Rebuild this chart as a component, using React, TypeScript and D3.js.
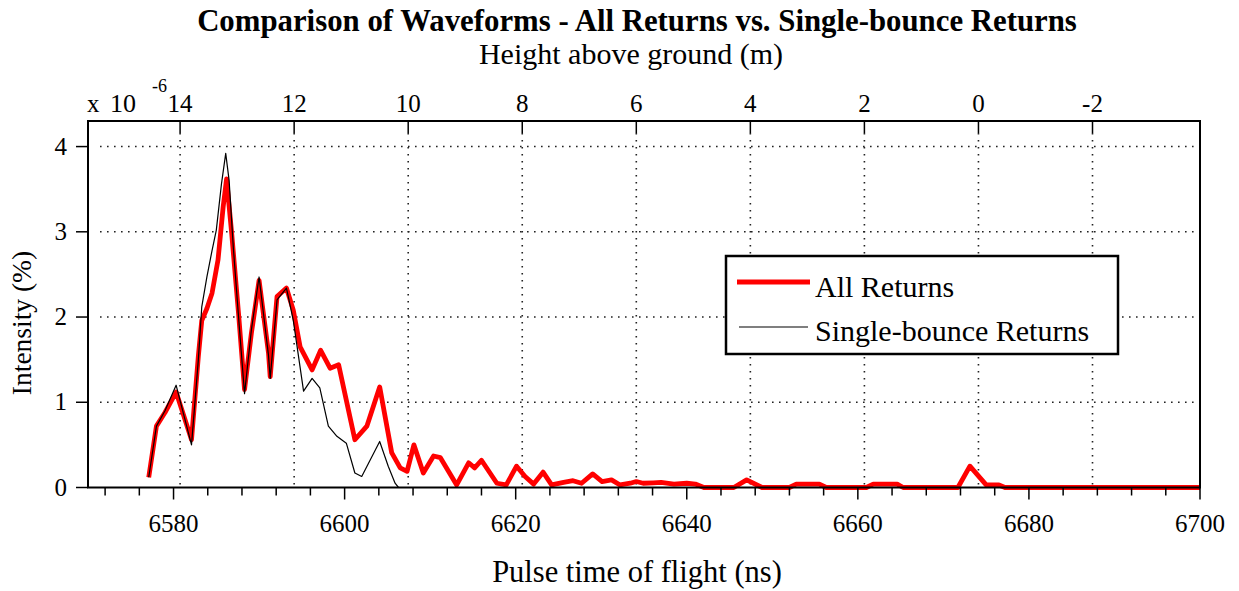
import React from "react";
import * as d3 from "d3";

// ---- Data ----
const allTime = [
  6577.1, 6578.0, 6579.0, 6580.3, 6582.1, 6582.9, 6583.3, 6583.9, 6584.5, 6585.2,
  6585.8, 6586.2, 6586.8, 6587.6, 6588.3, 6589.1, 6590.0, 6591.1, 6591.3, 6592.1,
  6593.2, 6594.0, 6594.8, 6596.2, 6597.2, 6598.3, 6599.3, 6601.2, 6602.6, 6604.1,
  6605.5, 6606.5, 6607.3, 6608.1, 6609.2, 6610.4, 6611.2, 6613.1, 6614.5, 6615.2,
  6616.0, 6617.8, 6618.9, 6620.1, 6621.1, 6622.1, 6623.2, 6624.2, 6625.6, 6626.7,
  6627.7, 6629.0, 6630.1, 6631.2, 6632.2, 6633.4, 6634.1, 6634.9, 6636.1, 6637.0,
  6638.5, 6640.0, 6641.0, 6642.0, 6645.5, 6647.0, 6648.8, 6652.0, 6652.8, 6655.5,
  6656.3, 6661.0, 6661.8, 6664.6, 6665.3, 6671.7, 6673.1, 6675.0, 6676.5, 6677.2,
  6700.0,
];
const allIntensity = [
  0.12, 0.72, 0.88, 1.12, 0.56, 1.54, 1.96, 2.1, 2.28, 2.67,
  3.29, 3.62, 2.98, 2.04, 1.15, 1.81, 2.43, 1.58, 1.3, 2.24,
  2.34, 2.08, 1.65, 1.38, 1.61, 1.4, 1.44, 0.56, 0.72, 1.18,
  0.41, 0.23, 0.19, 0.5, 0.17, 0.37, 0.35, 0.03, 0.29, 0.23,
  0.32, 0.05, 0.03, 0.25, 0.13, 0.04, 0.18, 0.03, 0.06, 0.08,
  0.05, 0.16, 0.07, 0.09, 0.03, 0.05, 0.07, 0.05, 0.055, 0.06,
  0.04, 0.05, 0.04, 0.0, 0.0, 0.09, 0.0, 0.0, 0.04, 0.04,
  0.0, 0.0, 0.04, 0.04, 0.0, 0.0, 0.25, 0.03, 0.03, 0.0,
  0.0,
];
const singleTime = [
  6577.1, 6578.0, 6579.0, 6580.3, 6582.1, 6582.9, 6583.3, 6583.9, 6584.5, 6585.0,
  6585.6, 6586.1, 6586.5, 6587.0, 6587.6, 6588.3, 6589.1, 6590.0, 6591.1, 6591.3,
  6592.1, 6593.2, 6594.0, 6595.2, 6596.2, 6597.1, 6598.1, 6599.1, 6600.2, 6601.2,
  6602.0, 6604.1, 6605.1, 6605.9, 6606.3,
];
const singleIntensity = [
  0.12, 0.72, 0.9, 1.2, 0.5, 1.5, 2.12, 2.47, 2.78, 3.02,
  3.56, 3.92, 3.6, 2.8, 2.0, 1.1, 1.85, 2.47, 1.55, 1.28,
  2.2, 2.34, 1.96, 1.13, 1.28, 1.17, 0.72, 0.6, 0.52, 0.17,
  0.13, 0.54, 0.25, 0.05, 0.0,
];
const timeTicks = [6580, 6600, 6620, 6640, 6660, 6680, 6700];
const heightTicks = [14, 12, 10, 8, 6, 4, 2, 0, -2];
const intensityTicks = [0, 1, 2, 3, 4];
const seriesNames = ["All Returns", "Single-bounce Returns"];

// ---- Layout ----
const W = 1239;
const H = 591;
const L = 88;
const R = 1200;
const T = 121;
const B = 487.5;
const GROUND_NS = 6674.1; // time of flight at 0 m
const M_PER_NS = 0.15;
const FONT = "'Liberation Serif', 'Times New Roman', serif";

export default function App() {
  const x = d3.scaleLinear().domain([6570, 6700]).range([L, R]);
  const hDomain = [(GROUND_NS - 6570) * M_PER_NS, (GROUND_NS - 6700) * M_PER_NS];
  const hx = d3.scaleLinear().domain(hDomain).range([L, R]);
  const y = d3.scaleLinear().domain([0, 4.3]).range([B, T]);

  const lineGen = d3
    .line<[number, number]>()
    .x((d) => x(d[0]))
    .y((d) => y(d[1]));
  const allPath = lineGen(allTime.map((t, i) => [t, allIntensity[i]] as [number, number]));
  const singlePath = lineGen(singleTime.map((t, i) => [t, singleIntensity[i]] as [number, number]));

  const minorTicks = d3.range(6572, 6701, 4).filter((t) => (t - 6580) % 20 !== 0);

  const dot = { stroke: "#222", strokeWidth: 1.6, strokeDasharray: "1.6 5.4" };

  return (
    <svg
      width={W}
      height={H}
      style={{ position: "absolute", left: 0, top: 0, background: "#fff" }}
      fontFamily={FONT}
    >
      <rect x={0} y={0} width={W} height={H} fill="#fff" />
      {/* grid */}
      {heightTicks.map((h) => (
        <line key={"gv" + h} x1={hx(h)} x2={hx(h)} y1={T + 12} y2={B} {...dot} />
      ))}
      {intensityTicks
        .filter((v) => v > 0)
        .map((v) => (
          <line key={"gh" + v} x1={L + 12} x2={R - 4} y1={y(v)} y2={y(v)} {...dot} />
        ))}

      {/* series */}
      <path d={allPath || ""} fill="none" stroke="#ff0000" strokeWidth={4.8} strokeLinejoin="round" />
      <path d={singlePath || ""} fill="none" stroke="#000" strokeWidth={1.2} strokeLinejoin="round" />

      {/* frame */}
      <rect x={L} y={T} width={R - L} height={B - T} fill="none" stroke="#000" strokeWidth={2} />

      {/* bottom axis ticks */}
      {minorTicks.map((t) => (
        <line key={"mt" + t} x1={x(t)} x2={x(t)} y1={B} y2={B + 8} stroke="#000" strokeWidth={1.5} />
      ))}
      {timeTicks.map((t) => (
        <g key={"tt" + t}>
          <line x1={x(t)} x2={x(t)} y1={B} y2={B + 12} stroke="#000" strokeWidth={1.5} />
          <text x={x(t)} y={532} textAnchor="middle" fontSize={25}>
            {t}
          </text>
        </g>
      ))}

      {/* top axis */}
      {heightTicks.map((h) => (
        <g key={"ht" + h}>
          <line x1={hx(h)} x2={hx(h)} y1={T} y2={T + 12} stroke="#000" strokeWidth={1.5} />
          <text x={hx(h)} y={112} textAnchor="middle" fontSize={25}>
            {h}
          </text>
        </g>
      ))}
      <text x={87} y={112} fontSize={25}>
        x
      </text>
      <text x={110} y={112} fontSize={26}>
        10
      </text>
      <text x={152} y={92} fontSize={18}>
        -6
      </text>

      {/* left axis */}
      {intensityTicks.map((v) => (
        <g key={"yt" + v}>
          <line x1={L - 12} x2={L} y1={y(v)} y2={y(v)} stroke="#000" strokeWidth={1.5} />
          <text x={67} y={y(v) + 8} textAnchor="end" fontSize={25}>
            {v}
          </text>
        </g>
      ))}

      {/* labels */}
      <text x={637} y={31} textAnchor="middle" fontSize={30.8} fontWeight="bold">
        Comparison of Waveforms - All Returns vs. Single-bounce Returns
      </text>
      <text x={631} y={64} textAnchor="middle" fontSize={30}>
        Height above ground (m)
      </text>
      <text x={637} y={582} textAnchor="middle" fontSize={30.5}>
        Pulse time of flight (ns)
      </text>
      <text transform={`translate(31, 323) rotate(-90)`} textAnchor="middle" fontSize={27.5}>
        Intensity (%)
      </text>

      {/* legend */}
      <rect x={726} y={256} width={392} height={98} fill="#fff" stroke="#000" strokeWidth={2.5} />
      <line x1={737} x2={810} y1={282} y2={282} stroke="#ff0000" strokeWidth={5} />
      <line x1={739} x2={808} y1={327} y2={327} stroke="#000" strokeWidth={1.2} />
      <text x={815} y={297} fontSize={30}>
        {seriesNames[0]}
      </text>
      <text x={815} y={341} fontSize={30}>
        {seriesNames[1]}
      </text>
    </svg>
  );
}
